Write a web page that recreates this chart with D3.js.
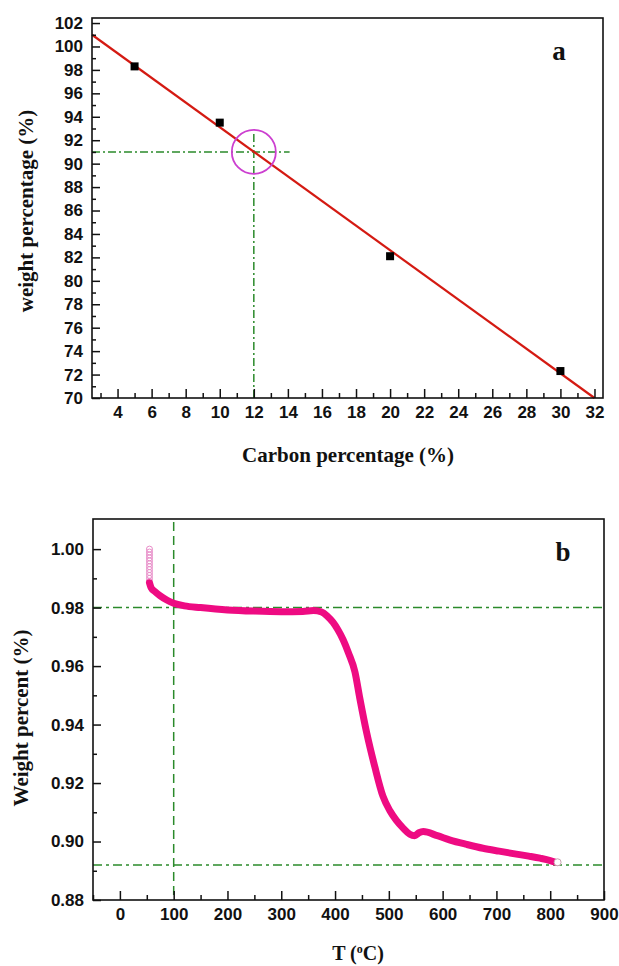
<!DOCTYPE html>
<html>
<head>
<meta charset="utf-8">
<script src="https://cdn.jsdelivr.net/npm/d3@7"></script>
<style>
  body { margin: 0; background: #fff; }
  svg { display: block; }
  .tick text { font-family: "Liberation Sans", Arial, sans-serif; font-weight: bold; font-size: 17px; fill: #111; }
  .ttl { font-family: "Liberation Serif", "Times New Roman", serif; font-weight: bold; fill: #111; }
</style>
</head>
<body>
<script>
/* panel a : weight vs carbon content */
const carbonPct = [5, 10, 20, 30]
const weightPct = [98.3, 93.5, 82.1, 72.3]
const fitCarbon = [2.5, 32]
const fitWeight = [101.0, 70.0]
const markCarbon = 12
const markWeight = 91
const aXTicks = [4, 6, 8, 10, 12, 14, 16, 18, 20, 22, 24, 26, 28, 30, 32]
const aXMinor = [3, 5, 7, 9, 11, 13, 15, 17, 19, 21, 23, 25, 27, 29, 31]
const aYTicks = [70, 72, 74, 76, 78, 80, 82, 84, 86, 88, 90, 92, 94, 96, 98, 100, 102]
const aYMinor = [71, 73, 75, 77, 79, 81, 83, 85, 87, 89, 91, 93, 95, 97, 99, 101]

/* panel b : TGA curve */
const tgaT = [55, 58, 65, 75, 88, 100, 120, 150, 200, 250, 300, 340, 360, 375, 385, 396, 405, 415, 425, 437, 446, 459, 474, 489, 502, 514, 527, 539, 548, 556, 564, 590, 614, 645, 675, 705, 737, 760, 781, 800, 810]
const tgaW = [0.9885, 0.9868, 0.9855, 0.9840, 0.9825, 0.9815, 0.9806, 0.9800, 0.9792, 0.9788, 0.9786, 0.9787, 0.9790, 0.9785, 0.9772, 0.9750, 0.9725, 0.9690, 0.9645, 0.9580, 0.9490, 0.9370, 0.9255, 0.9155, 0.9105, 0.9072, 0.9045, 0.9025, 0.9020, 0.9030, 0.9034, 0.9020, 0.9005, 0.8990, 0.8977, 0.8967, 0.8957, 0.8950, 0.8943, 0.8935, 0.8929]
const startT = 55
const startW = [1.000, 0.999, 0.998, 0.997, 0.996, 0.995, 0.994, 0.993, 0.992, 0.991, 0.990, 0.989]
const refT = 100
const refW = [0.98, 0.892]
const bXTicks = [0, 100, 200, 300, 400, 500, 600, 700, 800, 900]
const bXMinor = [-50, 50, 150, 250, 350, 450, 550, 650, 750, 850]
const bYTicks = [0.88, 0.90, 0.92, 0.94, 0.96, 0.98, 1.00]
const bYMinor = [0.89, 0.91, 0.93, 0.95, 0.97, 0.99]

const green = "#2b8a2b"
const svg = d3.select("body").append("svg").attr("width", 619).attr("height", 966)

function frame(g, x, y, xt, xm, yt, ym, fmtY){
	const [x0, x1] = x.range(), [y1, y0] = y.range()
	g.append("g").attr("transform", `translate(0,${y1})`)
		.call(d3.axisBottom(x).tickValues(xt).tickSize(-9).tickPadding(8).tickFormat(d3.format("d")))
		.call(a => a.select(".domain").remove())
	g.append("g").attr("transform", `translate(0,${y1})`)
		.call(d3.axisBottom(x).tickValues(xm).tickSize(-5).tickFormat(""))
		.call(a => a.select(".domain").remove())
	g.append("g").attr("transform", `translate(${x0},0)`)
		.call(d3.axisLeft(y).tickValues(yt).tickSize(-8).tickPadding(9).tickFormat(fmtY))
		.call(a => a.select(".domain").remove())
	g.append("g").attr("transform", `translate(${x0},0)`)
		.call(d3.axisLeft(y).tickValues(ym).tickSize(-4).tickFormat(""))
		.call(a => a.select(".domain").remove())
	g.selectAll(".tick line").attr("stroke", "#111").attr("stroke-width", 1.5)
	g.append("rect").attr("x", x0).attr("y", y0).attr("width", x1 - x0).attr("height", y1 - y0)
		.attr("fill", "none").attr("stroke", "#111").attr("stroke-width", 1.6)
}

// ---- panel a
const xa = d3.scaleLinear().domain([2.5, 32.5]).range([92, 603])
const ya = d3.scaleLinear().domain([70, 102.43]).range([398, 18])
const ga = svg.append("g")

ga.append("line")
	.attr("x1", xa.range()[0]).attr("x2", xa(14.1))
	.attr("y1", ya(markWeight)).attr("y2", ya(markWeight))
	.attr("stroke", green).attr("stroke-width", 1.5).attr("stroke-dasharray", "8,3,2,3")
ga.append("line")
	.attr("x1", xa(markCarbon)).attr("x2", xa(markCarbon))
	.attr("y1", ya.range()[0]).attr("y2", ya(92.75))
	.attr("stroke", green).attr("stroke-width", 1.5).attr("stroke-dasharray", "8,3,2,3")

ga.append("path")
	.datum(d3.zip(fitCarbon, fitWeight))
	.attr("fill", "none").attr("stroke", "#d41a12").attr("stroke-width", 2.2)
	.attr("d", d3.line().x(d => xa(d[0])).y(d => ya(d[1])))

ga.selectAll("rect.pt").data(d3.zip(carbonPct, weightPct)).join("rect")
	.attr("class", "pt")
	.attr("x", d => xa(d[0]) - 4).attr("y", d => ya(d[1]) - 4)
	.attr("width", 8).attr("height", 8).attr("fill", "#000")

ga.append("circle")
	.attr("cx", xa(markCarbon)).attr("cy", ya(markWeight)).attr("r", 22)
	.attr("fill", "none").attr("stroke", "#cc3fd0").attr("stroke-width", 1.8)

frame(ga, xa, ya, aXTicks, aXMinor, aYTicks, aYMinor, d3.format("d"))

ga.append("text").attr("class", "ttl").attr("x", 559).attr("y", 60)
	.attr("text-anchor", "middle").style("font-size", "27px").text("a")
ga.append("text").attr("class", "ttl").attr("x", 348).attr("y", 462)
	.attr("text-anchor", "middle").style("font-size", "21px").text("Carbon percentage (%)")
ga.append("text").attr("class", "ttl")
	.attr("transform", "translate(33,211) rotate(-90)")
	.attr("text-anchor", "middle").style("font-size", "21px").text("weight percentage (%)")

// ---- panel b
const xb = d3.scaleLinear().domain([-50, 900]).range([93, 604])
const yb = d3.scaleLinear().domain([0.88, 1.0103]).range([900, 519])
const gb = svg.append("g")

refW.forEach(w => {
	gb.append("line")
		.attr("x1", xb.range()[0]).attr("x2", xb.range()[1])
		.attr("y1", yb(w)).attr("y2", yb(w))
		.attr("stroke", green).attr("stroke-width", 1.5).attr("stroke-dasharray", "9,4,3,4")
})
gb.append("line")
	.attr("x1", xb(refT)).attr("x2", xb(refT))
	.attr("y1", yb.range()[1] + 3).attr("y2", yb.range()[0])
	.attr("stroke", green).attr("stroke-width", 1.5).attr("stroke-dasharray", "9,5")

gb.selectAll("circle.start").data(startW).join("circle")
	.attr("class", "start")
	.attr("cx", xb(startT)).attr("cy", d => yb(d)).attr("r", 3)
	.attr("fill", "none").attr("stroke", "#e88cc8").attr("stroke-width", 1)

gb.append("path")
	.datum(d3.zip(tgaT, tgaW))
	.attr("fill", "none").attr("stroke", "#ee0b82").attr("stroke-width", 7)
	.attr("stroke-linejoin", "round").attr("stroke-linecap", "round")
	.attr("d", d3.line().curve(d3.curveMonotoneX).x(d => xb(d[0])).y(d => yb(d[1])))

gb.append("circle")
	.attr("cx", xb(tgaT[tgaT.length - 1]) + 2).attr("cy", yb(tgaW[tgaW.length - 1]))
	.attr("r", 3.5).attr("fill", "#fff").attr("stroke", "#c9a0b0").attr("stroke-width", 1)

frame(gb, xb, yb, bXTicks, bXMinor, bYTicks, bYMinor, d3.format(".2f"))

gb.append("text").attr("class", "ttl").attr("x", 563).attr("y", 561)
	.attr("text-anchor", "middle").style("font-size", "27px").text("b")
const xl = gb.append("text").attr("class", "ttl").attr("x", 358).attr("y", 960)
	.attr("text-anchor", "middle").style("font-size", "20px")
xl.append("tspan").text("T  (")
xl.append("tspan").attr("dy", -7).style("font-size", "12px").text("o")
xl.append("tspan").attr("dy", 7).text("C)")
gb.append("text").attr("class", "ttl")
	.attr("transform", "translate(28,718) rotate(-90)")
	.attr("text-anchor", "middle").style("font-size", "21px").text("Weight percent  (%)")
</script>
</body>
</html>
